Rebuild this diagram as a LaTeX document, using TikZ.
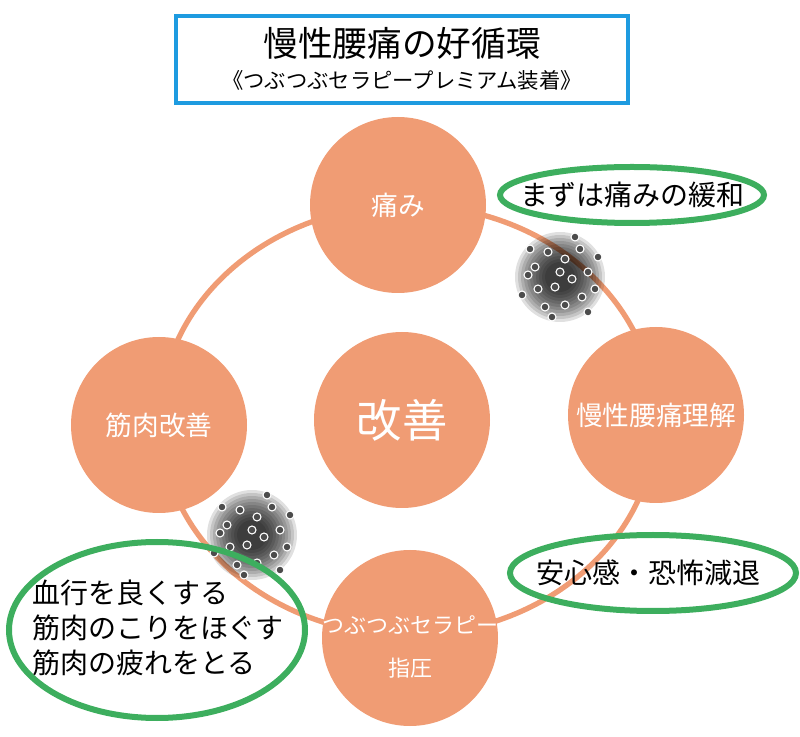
\documentclass[tikz,border=0pt]{standalone}
\usepackage{fontspec}
\setmainfont{Noto Sans CJK JP}
\usetikzlibrary{positioning}
\definecolor{salmon}{HTML}{F09C74}
\definecolor{ringgreen}{HTML}{3DAE5E}
\definecolor{titleblue}{HTML}{1E9BE0}
\tikzset{
  stage/.style={circle,fill=salmon,minimum size=132pt,inner sep=0pt,text=white,font=\fontsize{20}{22}\selectfont},
  notetext/.style={font=\fontsize{21}{23}\selectfont},
}
\begin{document}
\begin{tikzpicture}[x=0.75pt,y=-0.75pt,line cap=round]
  \useasboundingbox (0,0) rectangle (800,737);
  % title
  \draw[titleblue,line width=2.5pt] (176,16) rectangle (628,103);
  \node (title) at (402,43) {\fontsize{26}{28}\selectfont 慢性腰痛の好循環};
  \node (sub) at (402,80) {\fontsize{16}{18}\selectfont 《つぶつぶセラピープレミアム装着》};
  % ring
  \draw[salmon,line width=4pt] (408,420) ellipse (248 and 215);
  % stages
  \node[stage] (pain) at (398,205) {痛み};
  \node[stage] (know) at (656,415) {慢性腰痛理解};
  \node[stage] (tsubo) at (410,638) {};
  \node[font=\fontsize{16.5}{18}\selectfont,text=white] (tsubo1) at (410,625) {つぶつぶセラピー};
  \node[font=\fontsize{16.5}{18}\selectfont,text=white] (tsubo2) at (410,668) {指圧};
  \node[stage] (muscle) at (159,425) {筋肉改善};
  \node[stage,font=\fontsize{34}{36}\selectfont] (core) at (402,420) {改善};
  % blobs
  \foreach \cx/\cy in {560/277,252/535}{
    \foreach \r in {60,56,...,20}
      \fill[black,opacity=0.12] (\cx,\cy) circle[radius=\r*0.75];
    \foreach \dx/\dy in {-25/-10,-12/-25,5/-18,20/-28,28/-5,12/2,-5/10,-22/12,22/20,5/28,-15/30,35/12,-32/-2,0/-5,-38/18,15/-40,-8/40,38/-20,-30/-28,28/35}
      \draw[white,fill=black!70,line width=0.8pt] (\cx+\dx,\cy+\dy) circle[radius=4];
  }
  % notes
  \draw[ringgreen,line width=4.5pt] (632,195) ellipse (132 and 28);
  \node[notetext] (relief) at (632,195) {まずは痛みの緩和};
  \draw[ringgreen,line width=4.5pt] (653,573) ellipse (143 and 38);
  \node[notetext] (calm) at (648,573) {安心感・恐怖減退};
  \draw[ringgreen,line width=4.5pt] (157,630) ellipse (148 and 88);
  \node[notetext,align=left,font=\fontsize{21}{26}\selectfont] (blood) at (158,628) {血行を良くする\\筋肉のこりをほぐす\\筋肉の疲れをとる};
\end{tikzpicture}
\end{document}
